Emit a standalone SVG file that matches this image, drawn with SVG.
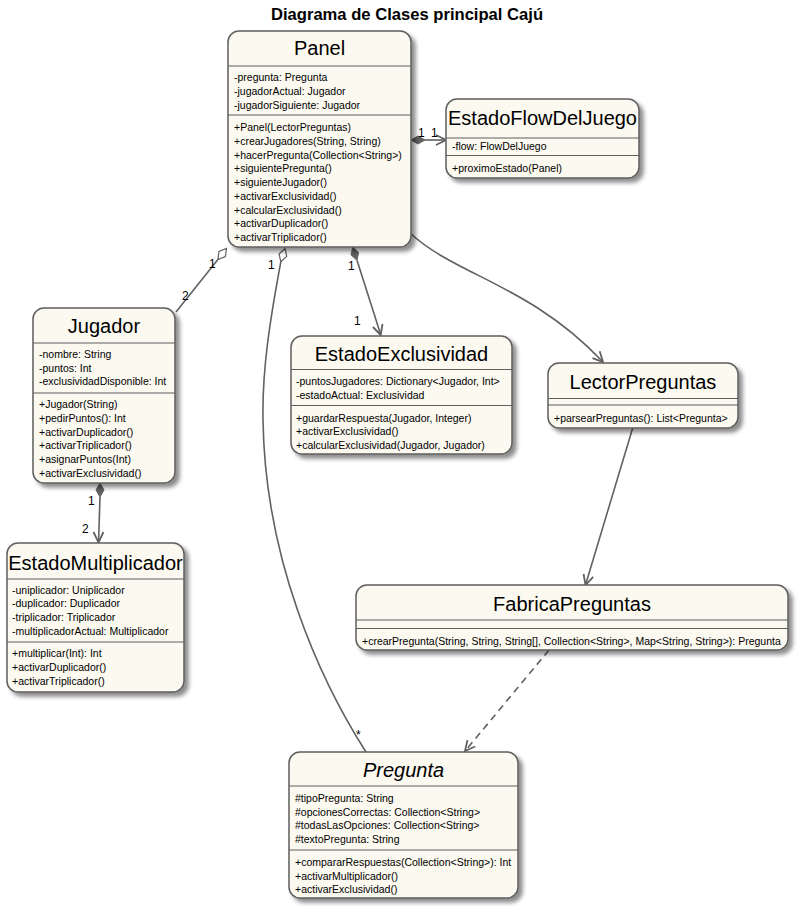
<svg xmlns="http://www.w3.org/2000/svg" width="805" height="909" viewBox="0 0 805 909">
<defs>
<filter id="sh" x="-10%" y="-10%" width="130%" height="130%">
<feGaussianBlur in="SourceAlpha" stdDeviation="2"/>
<feOffset dx="4" dy="4" result="o"/>
<feComponentTransfer><feFuncA type="linear" slope="0.45"/></feComponentTransfer>
<feMerge><feMergeNode/><feMergeNode in="SourceGraphic"/></feMerge>
</filter>
<style>
text{font-family:"Liberation Sans",Arial,sans-serif;fill:#000}
.box{fill:#FCF9F0;stroke:#5E5E5E;stroke-width:1.5;filter:url(#sh)}
.div{stroke:#5E5E5E;stroke-width:1.2}
.hd{font-size:20px;text-anchor:middle}
.m{font-size:10.5px}
.lb{font-size:12px}
.ln{fill:none;stroke:#616161;stroke-width:1.6}
.ah{fill:none;stroke:#616161;stroke-width:1.8}
.df{fill:#616161;stroke:#616161;stroke-width:1}
.dh{fill:#fff;stroke:#616161;stroke-width:1.2}
</style>
</defs>
<rect width="805" height="909" fill="#fff"/>
<text x="407" y="20" style="font-size:16.6px;font-weight:bold;text-anchor:middle">Diagrama de Clases principal Cajú</text>

<g id="connectors">
<!-- Panel -> EstadoFlowDelJuego -->
<line class="ln" x1="425" y1="140" x2="445" y2="140"/>
<polygon class="df" points="411,140 418,136 425,140 418,144"/>
<polyline class="ah" points="436,135 446,140 436,145"/>
<text class="lb" x="418" y="137">1</text>
<text class="lb" x="431" y="137">1</text>
<!-- Panel -> Jugador -->
<line class="ln" x1="217.9" y1="259.5" x2="176" y2="312"/>
<polygon class="dh" points="226.5,248.5 225.4,256.5 217.9,259.5 219,251.5"/>
<text class="lb" x="209" y="268">1</text>
<text class="lb" x="182" y="300">2</text>
<!-- Panel -> Pregunta -->
<path class="ln" d="M280.8,261.8 C270,320 262,370 263,420 C265,560 320,680 366,752"/>
<polygon class="dh" points="285,248.5 286.7,256.4 280.8,261.8 279.1,254"/>
<text class="lb" x="268" y="269">1</text>
<text class="lb" x="356" y="739">*</text>
<!-- Panel -> EstadoExclusividad -->
<line class="ln" x1="357" y1="260.3" x2="380.5" y2="334"/>
<polygon class="df" points="352.7,247 358.6,252.5 357,260.3 351,254.9"/>
<polyline class="ah" points="382.5,324 380.7,335 372.9,327"/>
<text class="lb" x="348" y="270">1</text>
<text class="lb" x="354" y="325">1</text>
<!-- Panel -> LectorPreguntas -->
<path class="ln" d="M410,233 C455,275 530,285 602,361"/>
<polyline class="ah" points="599.7,351.3 603,362 592.5,358.1"/>
<!-- LectorPreguntas -> FabricaPreguntas -->
<line class="ln" x1="632.7" y1="428" x2="585.8" y2="584"/>
<polyline class="ah" points="593.2,576.8 585.5,585 583.6,574"/>
<!-- FabricaPreguntas -> Pregunta -->
<line class="ln" x1="549" y1="650" x2="466" y2="750" stroke-dasharray="7,5"/>
<polyline class="ah" points="475.2,746.5 465,751 467.5,740.1"/>
<!-- Jugador -> EstadoMultiplicador -->
<line class="ln" x1="100" y1="497" x2="98.6" y2="541"/>
<polygon class="df" points="100,483 104,490 100,497 96,490"/>
<polyline class="ah" points="93.5,532 98.5,542.5 103.5,532"/>
<text class="lb" x="88" y="505">1</text>
<text class="lb" x="82" y="533">2</text>
</g>

<g id="Panel">
<rect class="box" x="228" y="31" width="183" height="216" rx="11"/>
<text class="hd" x="319.5" y="55">Panel</text>
<line class="div" x1="228" y1="66" x2="411" y2="66"/>
<text class="m" x="234" y="81.3">-pregunta: Pregunta</text>
<text class="m" x="234" y="95">-jugadorActual: Jugador</text>
<text class="m" x="234" y="108.8">-jugadorSiguiente: Jugador</text>
<line class="div" x1="228" y1="115" x2="411" y2="115"/>
<text class="m" x="234" y="131">+Panel(LectorPreguntas)</text>
<text class="m" x="234" y="144.75">+crearJugadores(String, String)</text>
<text class="m" x="234" y="158.5">+hacerPregunta(Collection&lt;String&gt;)</text>
<text class="m" x="234" y="172.25">+siguientePregunta()</text>
<text class="m" x="234" y="186">+siguienteJugador()</text>
<text class="m" x="234" y="199.75">+activarExclusividad()</text>
<text class="m" x="234" y="213.5">+calcularExclusividad()</text>
<text class="m" x="234" y="227.25">+activarDuplicador()</text>
<text class="m" x="234" y="241">+activarTriplicador()</text>
</g>

<g id="EstadoFlowDelJuego">
<rect class="box" x="446" y="99" width="193" height="79" rx="11"/>
<text class="hd" x="542.5" y="125">EstadoFlowDelJuego</text>
<line class="div" x1="446" y1="138" x2="639" y2="138"/>
<text class="m" x="452" y="150">-flow: FlowDelJuego</text>
<line class="div" x1="446" y1="155.5" x2="639" y2="155.5"/>
<text class="m" x="452" y="172">+proximoEstado(Panel)</text>
</g>

<g id="Jugador">
<rect class="box" x="33" y="308" width="142" height="175" rx="11"/>
<text class="hd" x="104" y="333">Jugador</text>
<line class="div" x1="33" y1="343" x2="175" y2="343"/>
<text class="m" x="39" y="358">-nombre: String</text>
<text class="m" x="39" y="371.7">-puntos: Int</text>
<text class="m" x="39" y="385.4">-exclusividadDisponible: Int</text>
<line class="div" x1="33" y1="393" x2="175" y2="393"/>
<text class="m" x="39" y="408.3">+Jugador(String)</text>
<text class="m" x="39" y="422">+pedirPuntos(): Int</text>
<text class="m" x="39" y="435.7">+activarDuplicador()</text>
<text class="m" x="39" y="449.4">+activarTriplicador()</text>
<text class="m" x="39" y="463.1">+asignarPuntos(Int)</text>
<text class="m" x="39" y="476.8">+activarExclusividad()</text>
</g>

<g id="EstadoMultiplicador">
<rect class="box" x="7" y="543" width="177" height="149" rx="11"/>
<text class="hd" x="95.5" y="569.5">EstadoMultiplicador</text>
<line class="div" x1="7" y1="579" x2="184" y2="579"/>
<text class="m" x="12" y="593.5">-uniplicador: Uniplicador</text>
<text class="m" x="12" y="607.2">-duplicador: Duplicador</text>
<text class="m" x="12" y="620.9">-triplicador: Triplicador</text>
<text class="m" x="12" y="634.6">-multiplicadorActual: Multiplicador</text>
<line class="div" x1="7" y1="642" x2="184" y2="642"/>
<text class="m" x="12" y="657.3">+multiplicar(Int): Int</text>
<text class="m" x="12" y="671">+activarDuplicador()</text>
<text class="m" x="12" y="684.7">+activarTriplicador()</text>
</g>

<g id="EstadoExclusividad">
<rect class="box" x="291" y="336" width="221" height="118" rx="11"/>
<text class="hd" x="401.5" y="361">EstadoExclusividad</text>
<line class="div" x1="291" y1="369.5" x2="512" y2="369.5"/>
<text class="m" x="296" y="385">-puntosJugadores: Dictionary&lt;Jugador, Int&gt;</text>
<text class="m" x="296" y="398.7">-estadoActual: Exclusividad</text>
<line class="div" x1="291" y1="405.5" x2="512" y2="405.5"/>
<text class="m" x="296" y="421.5">+guardarRespuesta(Jugador, Integer)</text>
<text class="m" x="296" y="435.2">+activarExclusividad()</text>
<text class="m" x="296" y="448.9">+calcularExclusividad(Jugador, Jugador)</text>
</g>

<g id="LectorPreguntas">
<rect class="box" x="548" y="363" width="190" height="65" rx="11"/>
<text class="hd" x="643" y="388.5">LectorPreguntas</text>
<line class="div" x1="548" y1="398.5" x2="738" y2="398.5"/>
<line class="div" x1="548" y1="405" x2="738" y2="405"/>
<text class="m" x="554" y="421.5">+parsearPreguntas(): List&lt;Pregunta&gt;</text>
</g>

<g id="FabricaPreguntas">
<rect class="box" x="356" y="585" width="432" height="65" rx="11"/>
<text class="hd" x="572" y="611">FabricaPreguntas</text>
<line class="div" x1="356" y1="620" x2="788" y2="620"/>
<line class="div" x1="356" y1="628.5" x2="788" y2="628.5"/>
<text class="m" x="362" y="644.5">+crearPregunta(String, String, String[], Collection&lt;String&gt;, Map&lt;String, String&gt;): Pregunta</text>
</g>

<g id="Pregunta">
<rect class="box" x="289" y="752" width="229" height="146" rx="11"/>
<text class="hd" x="403.5" y="777" style="font-style:italic">Pregunta</text>
<line class="div" x1="289" y1="786" x2="518" y2="786"/>
<text class="m" x="295" y="802">#tipoPregunta: String</text>
<text class="m" x="295" y="815.7">#opcionesCorrectas: Collection&lt;String&gt;</text>
<text class="m" x="295" y="829.4">#todasLasOpciones: Collection&lt;String&gt;</text>
<text class="m" x="295" y="843.1">#textoPregunta: String</text>
<line class="div" x1="289" y1="850" x2="518" y2="850"/>
<text class="m" x="295" y="866">+compararRespuestas(Collection&lt;String&gt;): Int</text>
<text class="m" x="295" y="879.7">+activarMultiplicador()</text>
<text class="m" x="295" y="893.4">+activarExclusividad()</text>
</g>
</svg>
